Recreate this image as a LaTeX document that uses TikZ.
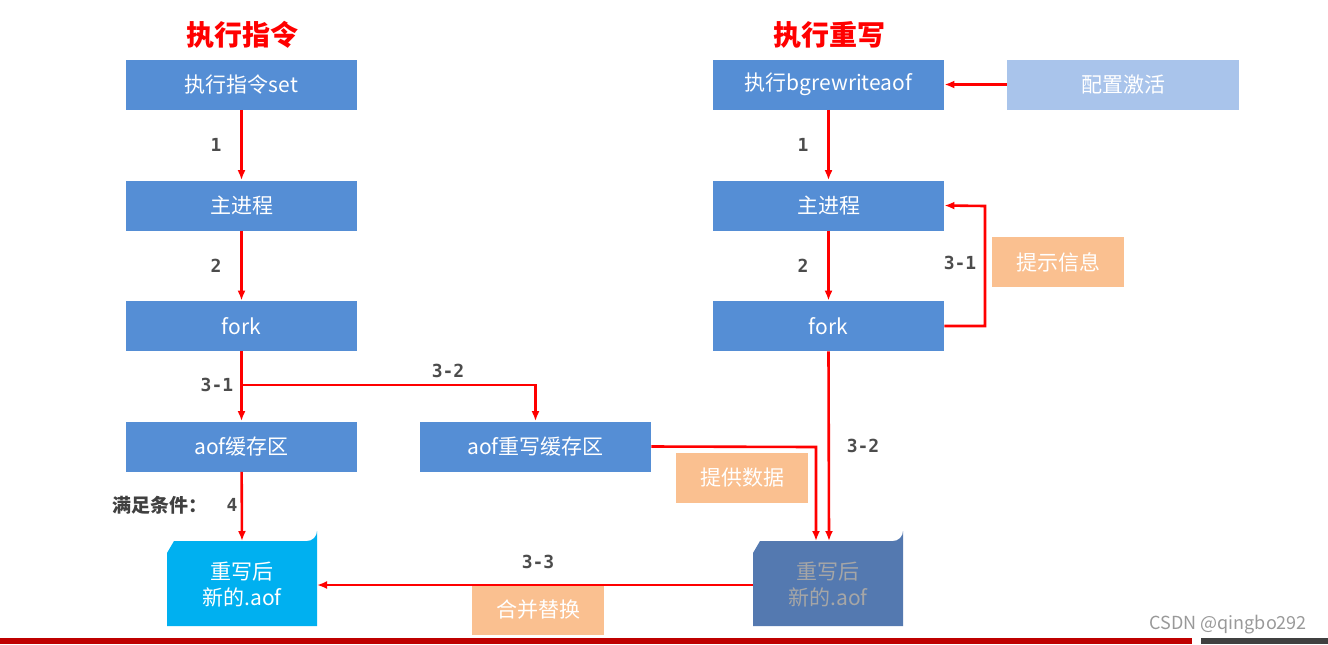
\documentclass[tikz,border=0pt]{standalone}
\usepackage{fontspec}
\setmainfont{Noto Sans CJK SC}
\newfontfamily\monof{DejaVu Sans Mono}
\usetikzlibrary{arrows.meta}
\begin{document}
\begin{tikzpicture}[x=0.5pt,y=-0.5pt,
  box/.style={fill=boxc,text=white,inner sep=0pt,font=\fontsize{10.5}{12}\selectfont},
  ob/.style={fill=orc,text=white,inner sep=0pt,font=\fontsize{10.5}{12}\selectfont},
  arr/.style={red,line width=1.3pt,-{Latex[length=5pt,width=4pt]}},
  lab/.style={text=black!70,font=\monof\bfseries\fontsize{9}{10}\selectfont},
  ttl/.style={text=red,font=\bfseries\fontsize{14}{16}\selectfont}]
\definecolor{boxc}{HTML}{558ED5}
\definecolor{orc}{HTML}{FAC090}
\definecolor{lbc}{HTML}{A9C4EB}
\definecolor{cyanc}{HTML}{00B0F0}
\definecolor{docb}{HTML}{5479B0}
\useasboundingbox (0,0) rectangle (1328,644);
\fill[red!75!black] (0,638) rectangle (1192,644);
\fill[black!75] (1201,638) rectangle (1328,644);
\node[ttl] (t1) at (242,35) {执行指令};
\node[ttl] (t2) at (829,35) {执行重写};
% left column
\node[box,minimum width=115.5pt,minimum height=25pt] (a1) at (241.5,84.5) {执行指令set};
\node[box,minimum width=115.5pt,minimum height=25pt] (a2) at (241.5,205.5) {主进程};
\node[box,minimum width=115.5pt,minimum height=25pt] (a3) at (241.5,326) {fork};
\node[box,minimum width=115.5pt,minimum height=25pt] (a4) at (241.5,446.5) {aof缓存区};
\node[box,minimum width=115.5pt,minimum height=25pt] (a5) at (535.5,446.5) {aof重写缓存区};
% right column
\node[box,minimum width=115.5pt,minimum height=25pt] (b1) at (828.5,84.5) {执行bgrewriteaof};
\node[box,minimum width=115.5pt,minimum height=25pt] (b2) at (828.5,205.5) {主进程};
\node[box,minimum width=115.5pt,minimum height=25pt] (b3) at (828.5,326) {fork};
\node[box,fill=lbc,minimum width=116pt,minimum height=25pt] (cfg) at (1123,84.5) {配置激活};
\node[ob,minimum width=66pt,minimum height=25pt] (tip) at (1058,262) {提示信息};
\node[ob,minimum width=66pt,minimum height=25pt] (prov) at (742,478) {提供数据};
\node[ob,minimum width=66pt,minimum height=25pt] (mrg) at (538,610) {合并替换};
% documents
\fill[cyanc] (167,626) -- (167,553) -- (174,541) -- (307,541) arc[start angle=90,end angle=0,x radius=10,y radius=10] -- (317,626) -- cycle;
\node[text=white,align=center,font=\fontsize{10.5}{13}\selectfont] (d1) at (242,585) {重写后\\新的.aof};
\fill[docb] (753,626) -- (753,553) -- (760,541) -- (893,541) arc[start angle=90,end angle=0,x radius=10,y radius=10] -- (903,626) -- cycle;
\node[text=black!35,align=center,font=\fontsize{10.5}{13}\selectfont] (d2) at (828,585) {重写后\\新的.aof};
\coordinate (d1t) at (242,541);
\coordinate (d1r) at (317,585);
\coordinate (d2l) at (753,585);
\coordinate (d2ta) at (816,541);
\coordinate (d2tb) at (829,541);
% arrows left
\draw[arr] (a1) -- node[lab,left=6pt]{1} (a2);
\draw[arr] (a2) -- node[lab,left=6pt]{2} (a3);
\coordinate (j) at (242,385);
\draw[arr] (a3) -- (a4);
\draw[arr] (j) -| (a5);
\node[lab] (l31) at (217,385) {3-1};
\node[lab] (l32) at (448,371) {3-2};
\draw[arr] (a4) -- (d1t);
\node[text=black!75,font=\bfseries\fontsize{9.5}{11}\selectfont] (cond) at (160,505) {满足条件：};
\node[lab] (c4) at (232,505) {4};
% right arrows
\draw[arr] (cfg) -- (b1);
\draw[arr] (b1) -- node[lab,left=6pt]{1} (b2);
\draw[arr] (b2) -- node[lab,left=6pt]{2} (b3);
\draw[arr] (b3.east) -- (985,326) -- (985,206) -- (b2.east);
\node[lab] (r31) at (960,263) {3-1};
\draw[arr] (b3.south) -- (d2tb);
\node[lab] (r32) at (863,446) {3-2};
\draw[arr] (a5.east) -- (816,447) -- (d2ta);
\draw[arr] (d2l) -- (d1r);
\node[lab] (l33) at (538,562) {3-3};
\node[text=black!40,font=\fontsize{9}{10}\selectfont,anchor=east] (wm) at (1314,625) {CSDN @qingbo292};
\end{tikzpicture}
\end{document}
